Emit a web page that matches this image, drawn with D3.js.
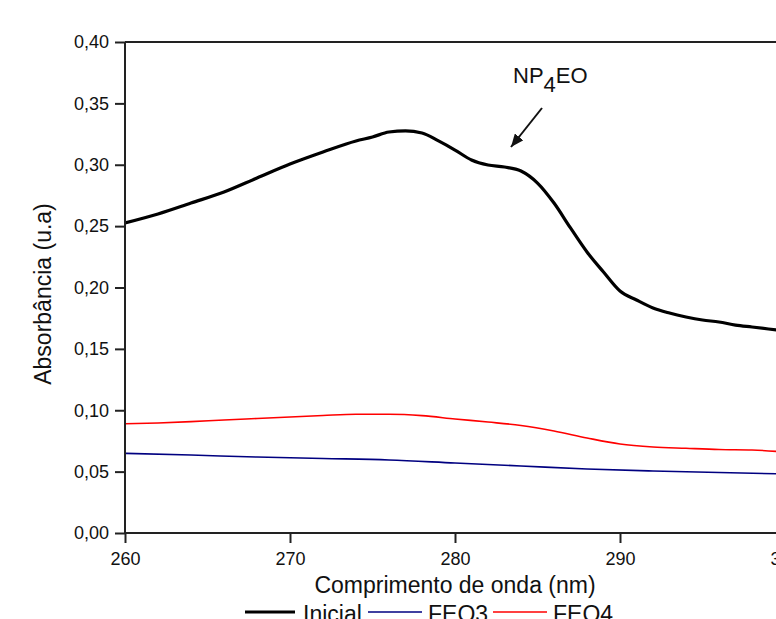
<!DOCTYPE html>
<html>
<head>
<meta charset="utf-8">
<script src="https://cdn.jsdelivr.net/npm/d3@7"></script>
<style>
  html, body { margin: 0; padding: 0; background: #ffffff; }
  svg { display: block; }
  text { font-family: "Liberation Sans", Arial, sans-serif; fill: #111; }
</style>
</head>
<body>
<svg id="chart" width="776" height="619"></svg>
<script>
// ---- data ----
const inicialX = [260,262,264,266,268,270,272,274,275,276,277,278,279,280,281,282,283,284,285,286,287,288,289,290,291,292,293,294,295,296,297,298,299,300];
const inicialY = [0.2526,0.2599,0.2688,0.2778,0.2892,0.3006,0.3104,0.3194,0.3226,0.3267,0.3276,0.3259,0.3194,0.3120,0.3039,0.2998,0.2982,0.2949,0.2851,0.2688,0.2485,0.2289,0.2126,0.1971,0.1898,0.1833,0.1792,0.1760,0.1735,0.1719,0.1694,0.1678,0.1662,0.1646];

const feo4X = [260,262,264,266,268,270,272,274,276,278,280,282,284,286,288,290,292,294,296,298,300];
const feo4Y = [0.0890,0.0896,0.0907,0.0921,0.0933,0.0945,0.0957,0.0967,0.0967,0.0956,0.0929,0.0904,0.0876,0.0831,0.0774,0.0725,0.0701,0.0690,0.0680,0.0676,0.0660];

const feo3X = [260,264,268,272,276,280,284,288,292,296,300];
const feo3Y = [0.0649,0.0635,0.0619,0.0607,0.0595,0.0570,0.0546,0.0521,0.0505,0.0493,0.0481];

const xTicks = [260,270,280,290,300];
const yTicks = [0.00,0.05,0.10,0.15,0.20,0.25,0.30,0.35,0.40];

const seriesNames = ["Inicial","FEO3","FEO4"];
const seriesColors = ["#000000","#000080","#ff0000"];
const seriesWidths = [3.2,1.6,1.6];

// ---- layout ----
const svg = d3.select("#chart");
const mLeft = 125, mTop = 42, mRight = 785, mBottom = 533;

const x = d3.scaleLinear().domain([260,300]).range([mLeft,mRight]);
const y = d3.scaleLinear().domain([0,0.40]).range([mBottom,mTop]);

const fmt = v => d3.format(".2f")(v).replace(".", ",");

// frame (top and right borders)
svg.append("path")
  .attr("d", `M${mLeft},${mTop}H${mRight}V${mBottom}`)
  .attr("fill","none").attr("stroke","#222").attr("stroke-width",2);

// clip
svg.append("clipPath").attr("id","clip").append("rect")
  .attr("x",mLeft).attr("y",mTop).attr("width",mRight-mLeft).attr("height",mBottom-mTop);

// lines
const line = d3.line().x(d=>x(d[0])).y(d=>y(d[1])).curve(d3.curveMonotoneX);
const data = [
  d3.zip(inicialX, inicialY),
  d3.zip(feo3X, feo3Y),
  d3.zip(feo4X, feo4Y)
];
const g = svg.append("g").attr("clip-path","url(#clip)");
[2,1,0].forEach(i => {
  g.append("path").datum(data[i])
    .attr("d", line)
    .attr("fill","none")
    .attr("stroke", seriesColors[i])
    .attr("stroke-width", seriesWidths[i])
    .attr("stroke-linejoin","round");
});

// axes
const xAxis = svg.append("g").attr("transform",`translate(0,${mBottom})`)
  .call(d3.axisBottom(x).tickValues(xTicks).tickFormat(d3.format("d")).tickSize(10).tickPadding(9));
const yAxis = svg.append("g").attr("transform",`translate(${mLeft},0)`)
  .call(d3.axisLeft(y).tickValues(yTicks).tickFormat(fmt).tickSize(10).tickPadding(6));
[xAxis,yAxis].forEach(a => {
  a.select(".domain").attr("stroke","#222").attr("stroke-width",2);
  a.selectAll(".tick line").attr("stroke","#222").attr("stroke-width",2);
  a.selectAll(".tick text").attr("font-size",18).attr("fill","#111")
    .attr("font-family",'"Liberation Sans", Arial, sans-serif');
});
yAxis.select(".domain").attr("d", `M0,${mBottom}V${mTop}`);
xAxis.select(".domain").attr("d", `M${mLeft},0H${mRight}`);

// axis titles
svg.append("text")
  .attr("x", 455).attr("y", 593)
  .attr("text-anchor","middle").attr("font-size",23)
  .text("Comprimento de onda (nm)");
svg.append("text")
  .attr("transform", `translate(51,294) rotate(-90)`)
  .attr("text-anchor","middle").attr("font-size",23)
  .text("Absorbância (u.a)");

// legend
const legendItems = [
  {lx1:245, lx2:295, tx:303},
  {lx1:368, lx2:422, tx:428},
  {lx1:493, lx2:547, tx:553}
];
legendItems.forEach((it,i) => {
  svg.append("line").attr("x1",it.lx1).attr("x2",it.lx2).attr("y1",612).attr("y2",612)
    .attr("stroke",seriesColors[i]).attr("stroke-width",seriesWidths[i]);
  svg.append("text").attr("x",it.tx).attr("y",622).attr("font-size",23).text(seriesNames[i]);
});

// annotation
const ann = svg.append("text").attr("x",513).attr("y",83).attr("font-size",22);
ann.append("tspan").text("NP");
ann.append("tspan").attr("dy",9).text("4");
ann.append("tspan").attr("dy",-9).text("EO");

svg.append("defs").append("marker")
  .attr("id","arrow").attr("viewBox","0 0 12 10").attr("refX",12).attr("refY",5)
  .attr("markerUnits","userSpaceOnUse").attr("markerWidth",13).attr("markerHeight",11)
  .attr("orient","auto")
  .append("path").attr("d","M0,0L12,5L0,10Z").attr("fill","#111");
svg.append("line").attr("x1",542).attr("y1",108).attr("x2",511).attr("y2",147)
  .attr("stroke","#111").attr("stroke-width",2).attr("marker-end","url(#arrow)");
</script>
</body>
</html>
